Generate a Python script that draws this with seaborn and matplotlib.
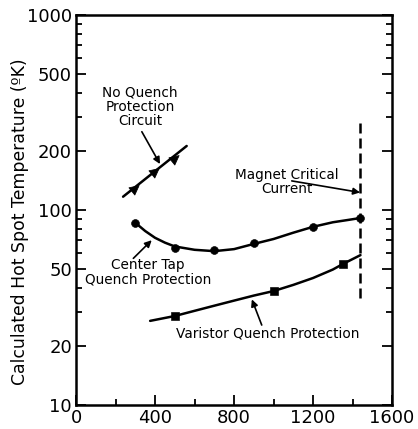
import numpy as np
import pandas as pd
import matplotlib
matplotlib.use("Agg")
import matplotlib.pyplot as plt
import seaborn as sns
from matplotlib.markers import MarkerStyle
from matplotlib.transforms import Affine2D
from matplotlib.ticker import LogLocator, NullFormatter, FixedLocator, FixedFormatter

# No quench protection circuit (triangles + straight line)
noq_x = [300, 400, 500]
noq_y = [130, 158, 185]
noq_line_x = [238, 560]
noq_line_y = [117, 213]

# Center tap quench protection (circles + smooth curve)
ct_x = [300, 500, 700, 900, 1200, 1440]
ct_y = [86, 64, 62, 67.5, 82, 91]
ct_curve_x = [300, 350, 400, 450, 500, 600, 700, 800, 900, 1000, 1100, 1200, 1300, 1380, 1440]
ct_curve_y = [86, 78, 72, 68, 65, 62.5, 61.5, 63, 67, 71, 76.5, 82, 86.5, 89, 91]

# Varistor quench protection (squares + smooth curve)
var_x = [500, 1000, 1350]
var_y = [28.6, 38.4, 52.8]
var_curve_x = [375, 500, 600, 700, 800, 900, 1000, 1100, 1200, 1300, 1350, 1440]
var_curve_y = [27, 28.6, 30.4, 32.3, 34.3, 36.4, 38.4, 41.3, 44.8, 49.5, 52.8, 58.7]

# Magnet critical current
crit_x = [1440, 1440]
crit_y = [279, 35]

x_ticks = [0, 400, 800, 1200, 1600]
y_ticks = [10, 20, 50, 100, 200, 500, 1000]
y_labels = ["10", "20", "50", "100", "200", "500", "1000"]

sns.set_style("ticks")
plt.rcParams["font.family"] = ["DejaVu Sans"]
plt.rcParams.update({"text.color": "black", "axes.labelcolor": "black",
                     "xtick.color": "black", "ytick.color": "black",
                     "axes.edgecolor": "black"})

fig = plt.figure(figsize=(4.18, 4.29), dpi=100)
ax = fig.add_axes([0.182, 0.056, 0.756, 0.909])

lw = 1.8
sns.lineplot(x=noq_line_x, y=noq_line_y, color="black", lw=lw, ax=ax)
sns.lineplot(x=ct_curve_x, y=ct_curve_y, color="black", lw=lw, ax=ax)
sns.lineplot(x=var_curve_x, y=var_curve_y, color="black", lw=lw, ax=ax)
ax.plot(crit_x, crit_y, color="black", lw=lw, dashes=(4, 2))

tri = MarkerStyle("^", transform=Affine2D().rotate_deg(-51))
sns.scatterplot(x=noq_x, y=noq_y, marker=tri, s=45, color="black", edgecolor="black", ax=ax)
sns.scatterplot(x=ct_x, y=ct_y, marker="o", s=32, color="black", edgecolor="black", ax=ax)
sns.scatterplot(x=var_x, y=var_y, marker="s", s=30, color="black", edgecolor="black", ax=ax)

ax.set_yscale("log")
ax.set_xlim(0, 1600)
ax.set_ylim(10, 1000)

ax.xaxis.set_major_locator(FixedLocator(x_ticks))
ax.xaxis.set_minor_locator(FixedLocator([200, 600, 1000, 1400]))
ax.yaxis.set_major_locator(FixedLocator(y_ticks))
ax.yaxis.set_major_formatter(FixedFormatter(y_labels))
ax.yaxis.set_minor_locator(LogLocator(base=10, subs=range(2, 10)))
ax.yaxis.set_minor_formatter(NullFormatter())

ax.tick_params(which="both", direction="in", left=True, right=True, bottom=True, top=False,
               labelsize=13, width=1.3, pad=3)
ax.tick_params(which="major", length=7)
ax.tick_params(which="minor", length=4)
for s in ax.spines.values():
    s.set_linewidth(1.8)

ax.set_ylabel("Calculated Hot Spot Temperature (ºK)", fontsize=12.4)
ax.yaxis.set_label_coords(-0.15, 0.47)

arr = dict(arrowstyle="-|>", color="black", lw=1.2, mutation_scale=10, shrinkA=0, shrinkB=0)
fs = 9.8
ax.annotate("No Quench\nProtection\nCircuit", xy=(324, 339), ha="center", va="center",
            fontsize=fs, linespacing=1.05)
ax.annotate("", xy=(425, 172), xytext=(333, 252), arrowprops=arr)
ax.annotate("Center Tap\nQuench Protection", xy=(365, 47.8), ha="center", va="center",
            fontsize=fs, linespacing=1.05)
ax.annotate("", xy=(383, 70), xytext=(290, 56.5), arrowprops=arr)
ax.annotate("Magnet Critical\nCurrent", xy=(1067, 139), ha="center", va="center",
            fontsize=fs, linespacing=1.05)
ax.annotate("", xy=(1438, 123), xytext=(1092, 141), arrowprops=arr)
ax.annotate("Varistor Quench Protection", xy=(970, 23.3), ha="center", va="center",
            fontsize=fs)
ax.annotate("", xy=(890, 34.8), xytext=(940, 25.7), arrowprops=arr)

plt.savefig("out.png", dpi=100)
